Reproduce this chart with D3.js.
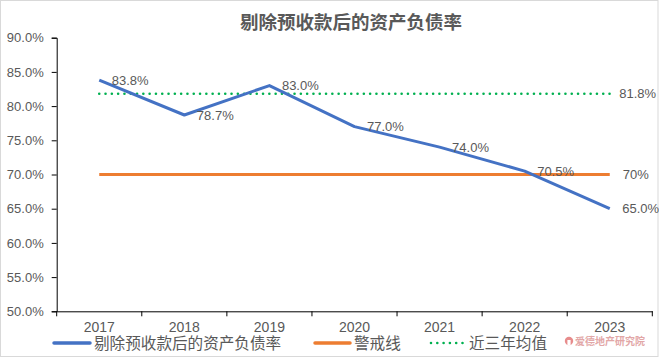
<!DOCTYPE html>
<html><head><meta charset="utf-8">
<script src="https://cdn.jsdelivr.net/npm/d3@7"></script>
<style>
body{margin:0;background:#fff;}
svg{display:block;}
</style></head>
<body>
<svg id="c" width="659" height="358"></svg>
<script>
const title = "剔除预收款后的资产负债率";
const years = ["2017","2018","2019","2020","2021","2022","2023"];
const ratio = [83.8, 78.7, 83.0, 77.0, 74.0, 70.5, 65.0];
const warning = [70, 70, 70, 70, 70, 70, 70];
const avg3 = [81.8, 81.8, 81.8, 81.8, 81.8, 81.8, 81.8];
const yTicks = [50, 55, 60, 65, 70, 75, 80, 85, 90];
const seriesNames = ["剔除预收款后的资产负债率", "警戒线", "近三年均值"];
const watermark = "爱德地产研究院";

const W = 659, H = 358;
const svg = d3.select("#c");
const fontNum = "'Liberation Sans', Arial, sans-serif";
const fontCJK = "'Noto Sans CJK SC', sans-serif";
const grey = "#595959";

svg.append("rect").attr("x",0.5).attr("y",0.5).attr("width",W-1.5).attr("height",H-2)
  .attr("fill","#fff").attr("stroke","#d9d9d9");

const x = d3.scaleBand().domain(years).range([56.7, 652.3]);
const y = d3.scaleLinear().domain([50, 90]).range([311.3, 37.7]);
const cx = d => x(d) + x.bandwidth()/2;

// title
svg.append("text").attr("x", 351).attr("y", 29).attr("text-anchor","middle")
  .attr("font-family", fontCJK).attr("font-size", 18.5).attr("font-weight","bold")
  .attr("fill", grey).text(title);

// y axis
const yAxis = svg.append("g").attr("transform","translate(56.7,0)")
  .call(d3.axisLeft(y).tickValues(yTicks).tickSize(5).tickPadding(8).tickFormat(d => d.toFixed(1) + "%"));
yAxis.select(".domain").attr("stroke","#000");
yAxis.selectAll(".tick line").attr("stroke","#000");
yAxis.selectAll("text").attr("font-family", fontNum).attr("font-size", 13).attr("fill", grey);

// x axis
const xAxis = svg.append("g").attr("transform","translate(0,311.3)")
  .call(d3.axisBottom(x).tickSize(0).tickPadding(11));
xAxis.select(".domain").attr("stroke","#000");
xAxis.selectAll("text").attr("font-family", fontNum).attr("font-size", 14).attr("fill", grey);
// boundary ticks
const bounds = years.map(d => x(d)).concat([x.range()[1]]);
xAxis.selectAll(".bt").data(bounds).enter().append("line").attr("class","bt")
  .attr("x1", d=>d).attr("x2", d=>d).attr("y1",0).attr("y2",5).attr("stroke","#000");

// lines
const line = d3.line().x((d,i) => cx(years[i])).y(d => y(d));
svg.append("path").datum(warning).attr("d", line).attr("fill","none")
  .attr("stroke","#ED7D31").attr("stroke-width",3);
svg.append("path").datum(avg3).attr("d", line).attr("fill","none")
  .attr("stroke","#00B050").attr("stroke-width",2.6).attr("stroke-dasharray","0,6.3").attr("stroke-linecap","round");
svg.append("path").datum(ratio).attr("d", line).attr("fill","none")
  .attr("stroke","#4472C4").attr("stroke-width",3).attr("stroke-linejoin","round");

// labels
svg.selectAll(".lab").data(ratio).enter().append("text").attr("class","lab")
  .attr("x", (d,i) => cx(years[i]) + 12.5).attr("y", d => y(d)).attr("dy","0.36em")
  .attr("font-family", fontNum).attr("font-size", 13).attr("fill", grey)
  .text(d => d.toFixed(1) + "%");
const last = years.length - 1;
svg.append("text").attr("x", cx(years[last]) + 9.5).attr("y", y(avg3[last])).attr("dy","0.36em")
  .attr("font-family", fontNum).attr("font-size", 13).attr("fill", grey).text(avg3[last].toFixed(1) + "%");
svg.append("text").attr("x", cx(years[last]) + 13).attr("y", y(warning[last])).attr("dy","0.36em")
  .attr("font-family", fontNum).attr("font-size", 13).attr("fill", grey).text(warning[last] + "%");

// legend
const leg = svg.append("g").attr("transform","translate(0,343)");
const legItems = [
  {x0:54, x1:90, tx:94, color:"#4472C4", dash:null, w:3.5},
  {x0:315, x1:350, tx:354, color:"#ED7D31", dash:null, w:3.5},
  {x0:431, x1:463, tx:469, color:"#00B050", dash:"0,6.3", w:2.6}
];
legItems.forEach((it,i) => {
  const l = leg.append("line").attr("x1",it.x0).attr("x2",it.x1).attr("y1",0).attr("y2",0)
    .attr("stroke",it.color).attr("stroke-width",it.w).attr("stroke-linecap","round");
  if (it.dash) l.attr("stroke-dasharray", it.dash);
  leg.append("text").attr("x", it.tx).attr("y", 0).attr("dy","0.36em")
    .attr("font-family", fontCJK).attr("font-size", 15.6).attr("fill", grey).text(seriesNames[i]);
});

// watermark
const wm = svg.append("g").attr("transform","translate(569,341)").attr("opacity",0.75);
wm.append("circle").attr("r",4.2).attr("fill","#e06666");
wm.append("rect").attr("x",-1.6).attr("y",-1).attr("width",3.2).attr("height",5.5).attr("fill","#fff");
wm.append("text").attr("x",6).attr("y",0).attr("dy","0.36em")
  .attr("font-family", fontCJK).attr("font-size", 10).attr("font-weight","bold")
  .attr("fill","#d98a8a").text(watermark);
</script>
</body></html>
